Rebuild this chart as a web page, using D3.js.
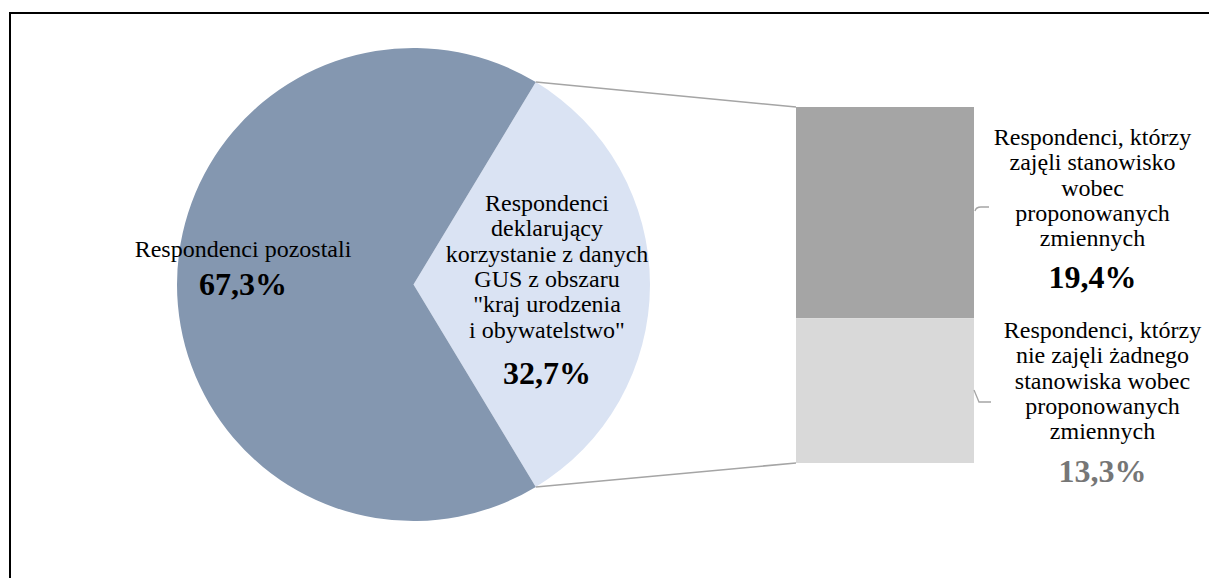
<!DOCTYPE html>
<html>
<head>
<meta charset="utf-8">
<script src="https://cdn.jsdelivr.net/npm/d3@7"></script>
<style>
  html, body { margin: 0; padding: 0; background: #fff; }
  svg { display: block; }
  text { font-family: "Liberation Serif", "Times New Roman", serif; }
</style>
</head>
<body>
<svg id="chart" width="1209" height="578"></svg>
<script>
// ---- data ----
const pieCategories = ["Respondenci pozostali", "Respondenci deklarujący korzystanie z danych GUS z obszaru \"kraj urodzenia i obywatelstwo\""];
const pieValues = [67.3, 32.7];
const pieLabelLines = [
  ["Respondenci pozostali"],
  ["Respondenci", "deklarujący", "korzystanie z danych", "GUS z obszaru", "\"kraj urodzenia", "i obywatelstwo\""]
];
const piePctLabels = ["67,3%", "32,7%"];

const barCategories = ["Respondenci, którzy zajęli stanowisko wobec proponowanych zmiennych", "Respondenci, którzy nie zajęli żadnego stanowiska wobec proponowanych zmiennych"];
const barValues = [19.4, 13.3];
const barLabelLines = [
  ["Respondenci, którzy", "zajęli stanowisko", "wobec", "proponowanych", "zmiennych"],
  ["Respondenci, którzy", "nie zajęli żadnego", "stanowiska wobec", "proponowanych", "zmiennych"]
];
const barPctLabels = ["19,4%", "13,3%"];

// ---- layout ----
const svg = d3.select("#chart");
const W = 1209, H = 578;

// frame
svg.append("rect").attr("x", 10).attr("y", 13).attr("width", W + 20).attr("height", H + 20)
  .attr("fill", "none").attr("stroke", "#000").attr("stroke-width", 2);

const cx = 413.5, cy = 284.5, R = 236.5;
const pieColors = ["#8497B0", "#DAE3F3"];
const barColors = ["#A5A5A5", "#D9D9D9"];

const total = d3.sum(pieValues);
const smallFrac = pieValues[1] / total;
const a0 = Math.PI / 2 - smallFrac * Math.PI;  // start of the small slice (clockwise from 12 o'clock)

// order: small slice first so it is centered on the right
const pieData = [1, 0].map(i => ({ i, v: pieValues[i] }));
const pie = d3.pie().sort(null).value(d => d.v).startAngle(a0).endAngle(a0 + 2 * Math.PI);
const arcs = pie(pieData);
const arc = d3.arc().innerRadius(0).outerRadius(R);

const g = svg.append("g").attr("transform", `translate(${cx},${cy})`);
g.selectAll("path").data(arcs).enter().append("path")
  .attr("d", arc)
  .attr("fill", d => pieColors[d.data.i]);

// bar of pie
const barX = 796, barW = 178, barTop = 107, barBottom = 463;
const barSum = d3.sum(barValues);
const y = d3.scaleLinear().domain([0, barSum]).range([barBottom, barTop]);
let cum = 0;
const stacks = barValues.map((v, i) => {
  // first value on top
  const top = barSum - cum; cum += v;
  return { i, y0: barSum - cum, y1: top };
});
svg.selectAll("rect.bar").data(stacks).enter().append("rect")
  .attr("class", "bar")
  .attr("x", barX).attr("width", barW)
  .attr("y", d => y(d.y1)).attr("height", d => y(d.y0) - y(d.y1))
  .attr("fill", d => barColors[d.i]);

// connector lines
const small = arcs.find(d => d.data.i === 1);
const pt = a => [cx + R * Math.sin(a), cy - R * Math.cos(a)];
const p1 = pt(small.startAngle), p2 = pt(small.endAngle);
svg.append("line").attr("x1", p1[0]).attr("y1", p1[1]).attr("x2", barX).attr("y2", y(barSum))
  .attr("stroke", "#A5A5A5").attr("stroke-width", 1.5);
svg.append("line").attr("x1", p2[0]).attr("y1", p2[1]).attr("x2", barX).attr("y2", y(0))
  .attr("stroke", "#A5A5A5").attr("stroke-width", 1.5);

// ---- labels ----
const FS = 24, LS = 25.3, PFS = 32;
function multiLabel(x, firstBaseline, lines, pct, pctBaseline, pctColor) {
  const t = svg.append("g");
  lines.forEach((l, k) => {
    t.append("text").attr("x", x).attr("y", firstBaseline + k * LS)
      .attr("text-anchor", "middle").attr("font-size", FS).attr("fill", "#000").text(l);
  });
  t.append("text").attr("x", x).attr("y", pctBaseline)
    .attr("text-anchor", "middle").attr("font-size", PFS).attr("font-weight", "bold")
    .attr("fill", pctColor).text(pct);
}
multiLabel(243, 257, pieLabelLines[0], piePctLabels[0], 295, "#000");
multiLabel(547, 211, pieLabelLines[1], piePctLabels[1], 384, "#000");
multiLabel(1092.5, 145, barLabelLines[0], barPctLabels[0], 288, "#000");
multiLabel(1102.5, 338, barLabelLines[1], barPctLabels[1], 482, "#767676");

// leader lines
svg.append("path").attr("d", "M975,211 Q976,207 981,207 L989,207")
  .attr("fill", "none").attr("stroke", "#A5A5A5").attr("stroke-width", 1.3);
svg.append("path").attr("d", "M974,390 L979,402 L991,402")
  .attr("fill", "none").attr("stroke", "#A5A5A5").attr("stroke-width", 1.3);
</script>
</body>
</html>
